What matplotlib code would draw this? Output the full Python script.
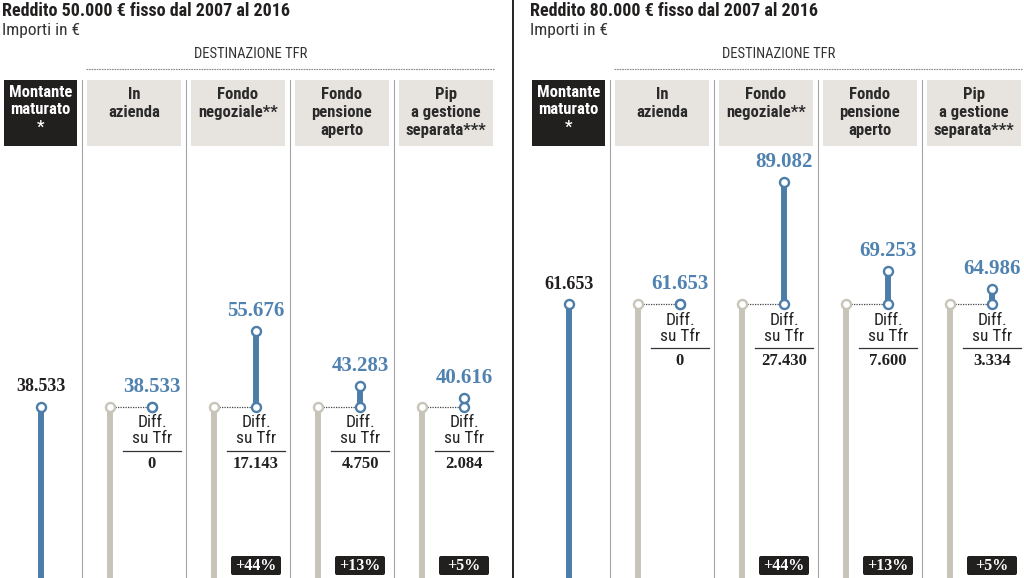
import matplotlib
matplotlib.use("Agg")
import matplotlib.pyplot as plt
from matplotlib.patches import Rectangle, FancyBboxPatch
from matplotlib.transforms import offset_copy

# ---------------- data ----------------
titles = ["Reddito 50.000 € fisso dal 2007 al 2016",
          "Reddito 80.000 € fisso dal 2007 al 2016"]
subtitle = "Importi in €"
group_label = "DESTINAZIONE TFR"
base_header = "Montante\nmaturato\n*"
categories = ["In\nazienda", "Fondo\nnegoziale**", "Fondo\npensione\naperto",
              "Pip\na gestione\nseparata***"]
montante = [38533, 61653]
values_50k = [38533, 55676, 43283, 40616]
values_80k = [61653, 89082, 69253, 64986]
diff_50k = [0, 17143, 4750, 2084]
diff_80k = [0, 27430, 7600, 3334]
pct_50k = [None, "+44%", "+13%", "+5%"]
pct_80k = [None, "+44%", "+13%", "+5%"]
diff_label = ["Diff.", "su Tfr"]

panels = [
    dict(title=titles[0], base=montante[0], values=values_50k, diffs=diff_50k, pcts=pct_50k),
    dict(title=titles[1], base=montante[1], values=values_80k, diffs=diff_80k, pcts=pct_80k),
]

# ---------------- style ----------------
W, H = 1024, 578
PX_PER_EUR = 0.00444
BLUE = "#4d7eaa"
BLUE_TXT = "#4f82b0"
GRAY_BAR = "#c9c4b9"
HDR_BG = "#e7e4df"
DARK = "#221f1f"
SANS = ["Roboto Condensed", "Lato", "DejaVu Sans"]
SERIF = ["Liberation Serif", "DejaVu Serif"]


def fmt(v):
    return f"{v:,}".replace(",", ".")


fig = plt.figure(figsize=(W / 100, H / 100), dpi=100)
fig.patch.set_facecolor("white")

# data axes: x in layout pixels, y in euro
ax = fig.add_axes([0, 0, 1, 1])
ax.set_xlim(0, W)
ax.set_ylim(0, H / PX_PER_EUR)
ax.axis("off")

# overlay axes for the header/layout (pixel coordinates, y downwards)
ov = fig.add_axes([0, 0, 1, 1], zorder=-1)
ov.set_xlim(0, W)
ov.set_ylim(H, 0)
ov.axis("off")

PANEL_OFF = [0, 528]
COL_W = 104

for p, off in zip(panels, PANEL_OFF):
    # titles
    ov.text(off + 2, 11, p["title"], family=SANS, weight="bold", fontsize=13,
            va="center", ha="left", color=DARK)
    ov.text(off + 2, 30, subtitle, family=SANS, fontsize=12.5, va="center",
            ha="left", color="#333333")
    ov.text(off + 251, 54, group_label, family=SANS, fontsize=10.5, va="center",
            ha="center", color="#333333")
    ov.plot([off + 86, off + 494], [69, 69], color="#888888", lw=0.8,
            linestyle=(0, (1.5, 0.8)))

    # montante header
    ov.add_patch(Rectangle((off + 4, 80), 73, 66, color=DARK, lw=0))
    ov.text(off + 40.5, 85, base_header, family=SANS, weight="bold", fontsize=12,
            color="white", ha="center", va="top", linespacing=1.2)

    # separators and headers
    for i, cat in enumerate(categories):
        sx = off + 82 + i * COL_W
        ov.plot([sx, sx], [80, H], color="#a4a4a4", lw=0.8)
        ov.add_patch(Rectangle((sx + 5, 80), 94, 66, color=HDR_BG, lw=0))
        ov.text(sx + 52, 87, cat, family=SANS, weight="bold", fontsize=12,
                color="#2a2a2a", ha="center", va="top", linespacing=1.25)

    base = p["base"]
    mx = off + 41
    # montante bar
    ax.plot([mx, mx], [0, base], color=BLUE, lw=4.3, solid_capstyle="butt", zorder=2)
    ax.plot([mx], [base], marker="o", ms=6.5, mfc="white", mec=BLUE, mew=1.7, zorder=4)
    ax.annotate(fmt(base), (mx, base), xytext=(0, 20), textcoords="offset pixels",
                ha="center", va="center", family=SERIF, weight="bold", fontsize=13,
                color=DARK)

    for i, (val, d, pct) in enumerate(zip(p["values"], p["diffs"], p["pcts"])):
        gx = off + 110 + i * COL_W
        bx = off + 152 + i * COL_W
        # gray TFR bar
        ax.plot([gx, gx], [0, base], color=GRAY_BAR, lw=4.3, solid_capstyle="butt", zorder=2)
        ax.plot([gx, bx], [base, base], color="#444444", lw=0.9,
                linestyle=(0, (1, 1)), zorder=1)
        ax.plot([gx], [base], marker="o", ms=6.5, mfc="white", mec=GRAY_BAR, mew=1.7, zorder=4)
        # blue difference bar
        if val > base:
            ax.plot([bx, bx], [base, val], color=BLUE, lw=4.3, solid_capstyle="butt", zorder=2)
        ax.plot([bx, bx], [base, val], linestyle="none", marker="o", ms=6.5,
                mfc="white", mec=BLUE, mew=1.7, zorder=4)
        ax.annotate(fmt(val), (bx, val), xytext=(0, 20), textcoords="offset pixels",
                    ha="center", va="center", family=SERIF, weight="bold", fontsize=15,
                    color=BLUE_TXT)
        # diff block
        for k, line in enumerate(diff_label):
            ax.annotate(line, (bx, base), xytext=(0, -16 - 16 * k),
                        textcoords="offset pixels", ha="center", va="center",
                        family=SANS, fontsize=12.5, color="#222222")
        tr = offset_copy(ax.transData, fig=fig, x=0, y=-44, units="dots")
        ax.plot([bx - 29, bx + 29], [base, base], color="#333333", lw=0.9, transform=tr)
        ax.annotate(fmt(d), (bx, base), xytext=(0, -57), textcoords="offset pixels",
                    ha="center", va="center", family=SERIF, weight="bold", fontsize=12,
                    color=DARK)
        # percentage badge
        if pct:
            ov.add_patch(FancyBboxPatch((bx - 25, 556), 50, 19,
                                        boxstyle="round,pad=0,rounding_size=2",
                                        color=DARK, lw=0))
            ov.text(bx, 565.5, pct, family=SERIF, weight="bold", fontsize=11.5,
                    color="white", ha="center", va="center")

# panel divider
ov.plot([513, 513], [0, H], color="#222222", lw=1.4)

fig.savefig("out.png", dpi=100, facecolor="white")
